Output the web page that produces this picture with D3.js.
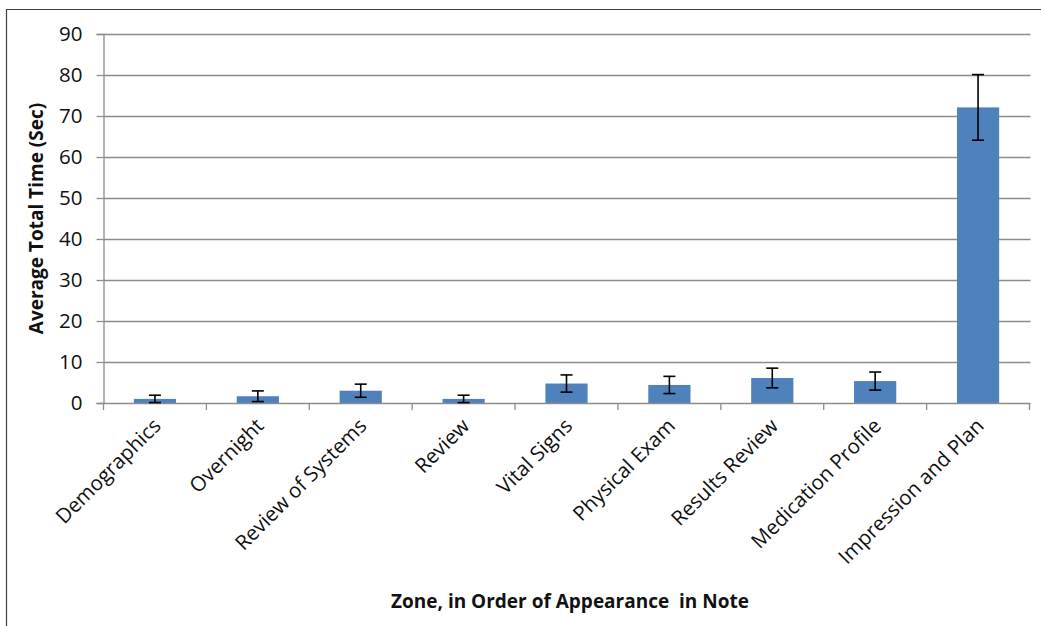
<!DOCTYPE html>
<html>
<head>
<meta charset="utf-8">
<script src="https://cdn.jsdelivr.net/npm/d3@7"></script>
<style>
  html, body { margin: 0; padding: 0; background: #fff; }
  svg { display: block; }
  text { font-family: "Open Sans", "DejaVu Sans", sans-serif; fill: #111; }
</style>
</head>
<body>
<svg id="chart" width="1041" height="626"></svg>
<script>
const categories = ["Demographics", "Overnight", "Review of Systems", "Review", "Vital Signs",
                    "Physical Exam", "Results Review", "Medication Profile", "Impression and Plan"];
const meanValues = [1.0, 1.65, 3.0, 1.0, 4.75, 4.4, 6.1, 5.35, 72.1];
const errorValues = [0.9, 1.3, 1.6, 0.9, 2.1, 2.1, 2.4, 2.2, 8.0];
const yTicks = [0, 10, 20, 30, 40, 50, 60, 70, 80, 90];
const yTitle = "Average Total Time (Sec)";
const xTitle = "Zone, in Order of Appearance\u00a0 in Note";

(function () {
const svg = d3.select("#chart");
const plotL = 103.5, plotR = 1029.5, plotT = 34, plotB = 403;

// outer frame (top and left edges visible)
svg.append("path")
  .attr("d", `M6.5,700 V9.5 H1100`)
  .attr("fill", "none").attr("stroke", "#404040").attr("stroke-width", 1.2);

const y = d3.scaleLinear().domain([0, 90]).range([plotB, plotT]);
const x = d3.scaleBand().domain(categories).range([plotL, plotR])
  .paddingInner(0.59).paddingOuter(0.295);

// gridlines
svg.append("g").selectAll("line").data(yTicks.filter(d => d > 0)).join("line")
  .attr("x1", plotL).attr("x2", plotR + 1)
  .attr("y1", d => Math.round(y(d)) + 0.5).attr("y2", d => Math.round(y(d)) + 0.5)
  .attr("stroke", "#8c8c8c").attr("stroke-width", 1.3);

// y axis
const yAxis = d3.axisLeft(y).tickValues(yTicks).tickSize(7).tickPadding(14).tickFormat(d3.format("d"));
const gy = svg.append("g").attr("transform", `translate(${plotL},0)`).call(yAxis);
gy.select(".domain").attr("stroke", "#8c8c8c").attr("stroke-width", 1.3);
gy.selectAll(".tick line").attr("stroke", "#8c8c8c").attr("stroke-width", 1.3);
gy.selectAll(".tick text").style("font-size", "20.5px").attr("fill", "#111")
  .style("font-family", "'Open Sans', sans-serif");

// bars
svg.append("g").selectAll("rect").data(categories).join("rect")
  .attr("x", d => x(d))
  .attr("width", x.bandwidth())
  .attr("y", (d, i) => y(meanValues[i]))
  .attr("height", (d, i) => plotB - y(meanValues[i]))
  .attr("fill", "#4f81bd");

// x axis line and ticks at band boundaries
const boundaries = d3.range(categories.length + 1).map(i => plotL + i * x.step());
svg.append("line").attr("x1", plotL).attr("x2", plotR + 1)
  .attr("y1", plotB + 0.5).attr("y2", plotB + 0.5)
  .attr("stroke", "#8c8c8c").attr("stroke-width", 1.3);
svg.append("g").selectAll("line").data(boundaries).join("line")
  .attr("x1", d => d).attr("x2", d => d)
  .attr("y1", plotB).attr("y2", plotB + 7)
  .attr("stroke", "#8c8c8c").attr("stroke-width", 1.3);

// error bars
const eb = svg.append("g").attr("stroke", "#000").attr("stroke-width", 1.6).attr("fill", "none");
categories.forEach((c, i) => {
  const cx = x(c) + x.bandwidth() / 2;
  const hi = y(meanValues[i] + errorValues[i]);
  const lo = y(Math.max(0, meanValues[i] - errorValues[i]));
  eb.append("line").attr("x1", cx).attr("x2", cx).attr("y1", hi).attr("y2", lo);
  eb.append("line").attr("x1", cx - 6).attr("x2", cx + 6).attr("y1", hi).attr("y2", hi);
  eb.append("line").attr("x1", cx - 6).attr("x2", cx + 6).attr("y1", lo).attr("y2", lo);
});

// x category labels rotated -45
svg.append("g").selectAll("text").data(categories).join("text")
  .attr("transform", d => `translate(${x(d) + x.bandwidth() / 2 - 3},${plotB + 14}) rotate(-45)`)
  .attr("text-anchor", "end")
  .attr("dy", "0.7em")
  .style("font-size", "20.5px")
  .text(d => d);

// axis titles
svg.append("text")
  .attr("transform", `translate(43,${(plotT + plotB) / 2}) rotate(-90)`)
  .attr("text-anchor", "middle")
  .style("font-size", "19px").style("font-weight", "bold")
  .text(yTitle);

svg.append("text")
  .attr("x", 570).attr("y", 608)
  .attr("text-anchor", "middle")
  .style("font-size", "19px").style("font-weight", "bold")
  .text(xTitle);
})();
</script>
</body>
</html>
